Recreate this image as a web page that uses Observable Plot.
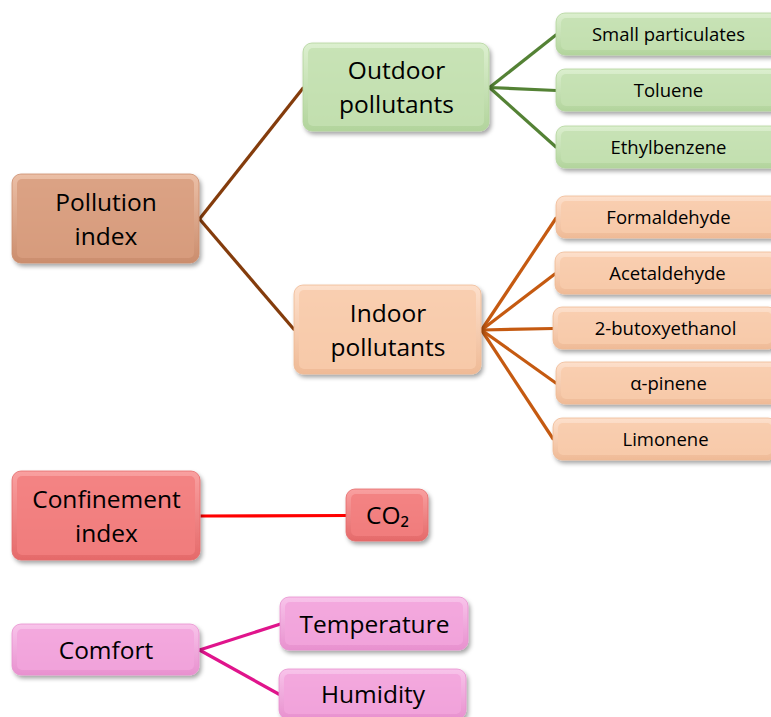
<!DOCTYPE html>
<html><head><meta charset="utf-8">
<script src="https://cdn.jsdelivr.net/npm/d3@7"></script>
<script src="https://cdn.jsdelivr.net/npm/@observablehq/plot@0.6"></script>
<style>body{margin:0;background:#fff;overflow:hidden}</style>
</head><body><div id="chart"></div>
<script>
// ---- data: the tree ----
const nodeNames = ["Pollution index","Outdoor pollutants","Indoor pollutants","Small particulates","Toluene","Ethylbenzene","Formaldehyde","Acetaldehyde","2-butoxyethanol","α-pinene","Limonene","Confinement index","CO₂","Comfort","Temperature","Humidity"];
const nodeLabels = ["Pollution\nindex","Outdoor\npollutants","Indoor\npollutants","Small particulates","Toluene","Ethylbenzene","Formaldehyde","Acetaldehyde","2-butoxyethanol","α-pinene","Limonene","Confinement\nindex","CO₂","Comfort","Temperature","Humidity"];
const nodeParents = [null,"Pollution index","Pollution index","Outdoor pollutants","Outdoor pollutants","Outdoor pollutants","Indoor pollutants","Indoor pollutants","Indoor pollutants","Indoor pollutants","Indoor pollutants",null,"Confinement index",null,"Comfort","Comfort"];
const nodeGroups = ["pollution","outdoor","indoor","outdoor","outdoor","outdoor","indoor","indoor","indoor","indoor","indoor","confinement","confinement","comfort","comfort","comfort"];

// ---- layout (diagram units) ----
const boxLeft   = [12,303,294,556,556,556,556,555,553,556,553,12,346,12,280,279];
const boxTop    = [174,43,285,13,69,126,196,252,307,362,418,471,489,624,597,669];
const boxWidth  = [187,186,187,224,224,224,224,224,224,224,224,188,82,187,188,187];
const boxHeight = [89,88,89,42,42,42,42,42,42,42,42,89,52,51,53,50];
const boxFont   = [24.5,24.5,24.5,18.5,18.5,18.5,18.5,18.5,18.5,18.5,18.5,24.5,24.5,24.5,24.5,24.5];

// ---- styles ----
const groupFill = {pollution:["#ebbfa6","#d89e7f","#cb8d6d"], outdoor:["#dcefcf","#c4e1b1","#b2d49c"], indoor:["#fde0cc","#f8cbac","#efba96"], confinement:["#f9a0a0","#f27f7f","#e56a6a"], comfort:["#f8c4ea","#f2a5dc","#e891cf"]};
const groupLink = {pollution:"#843c0c", outdoor:"#548235", indoor:"#c55a11", confinement:"#ff0000", comfort:"#e0148c"};

const nodes = nodeNames.map((name, i) => ({
  name, label: nodeLabels[i], parent: nodeParents[i], group: nodeGroups[i],
  x1: boxLeft[i], x2: boxLeft[i] + boxWidth[i], y1: boxTop[i], y2: boxTop[i] + boxHeight[i],
  cx: boxLeft[i] + boxWidth[i] / 2, cy: boxTop[i] + boxHeight[i] / 2, fs: boxFont[i]
}));
const byName = new Map(nodes.map(d => [d.name, d]));
const links = nodes.filter(d => d.parent).map(d => {
  const p = byName.get(d.parent);
  return {x1: p.x2, y1: p.cy, x2: d.x1, y2: d.cy, color: groupLink[p.group]};
});

const chart = Plot.plot({
  width: 771, height: 717,
  margin: 0,
  x: {domain: [0, 771], range: [0, 771], axis: null},
  y: {domain: [0, 717], range: [0, 717], axis: null},
  color: {type: "identity"},
  style: {fontFamily: "'Open Sans', sans-serif", background: "#fff"},
  marks: [
    Plot.link(links, {x1: "x1", y1: "y1", x2: "x2", y2: "y2", stroke: "color", strokeWidth: 3.2}),
    Plot.rect(nodes, {x1: "x1", x2: "x2", y1: "y1", y2: "y2", fill: d => `url(#grad-${d.group})`, rx: 9, stroke: d => groupFill[d.group][2], strokeWidth: 0.8}),
    Plot.rect(nodes, {x1: d => d.x1 + 5, x2: d => d.x2 - 5, y1: d => d.y1 + 5, y2: d => d.y2 - 5, fill: d => groupFill[d.group][1], rx: 5, fillOpacity: 0.85}),
    Plot.text(nodes, {x: "cx", y: d => d.cy - 2, text: "label", fontSize: "fs", fill: "#000", lineHeight: 1.38, textAnchor: "middle"})
  ]
});

// gradient + shadow defs
const svg = d3.select(chart);
const defs = svg.insert("defs", ":first-child");
for (const [g, c] of Object.entries(groupFill)) {
  const lg = defs.append("linearGradient").attr("id", `grad-${g}`).attr("x1", 0).attr("y1", 0).attr("x2", 0).attr("y2", 1);
  lg.append("stop").attr("offset", "0%").attr("stop-color", c[0]);
  lg.append("stop").attr("offset", "100%").attr("stop-color", c[2]);
}
const f = defs.append("filter").attr("id", "shadow").attr("x", "-10%").attr("y", "-10%").attr("width", "130%").attr("height", "140%");
f.append("feDropShadow").attr("dx", 2).attr("dy", 3).attr("stdDeviation", 2.2).attr("flood-color", "#000").attr("flood-opacity", 0.35);
const rectGroups = svg.selectAll('g[aria-label="rect"]').nodes();
if (rectGroups.length) d3.select(rectGroups[0]).attr("filter", "url(#shadow)");

document.getElementById("chart").appendChild(chart);
</script>
</body></html>
